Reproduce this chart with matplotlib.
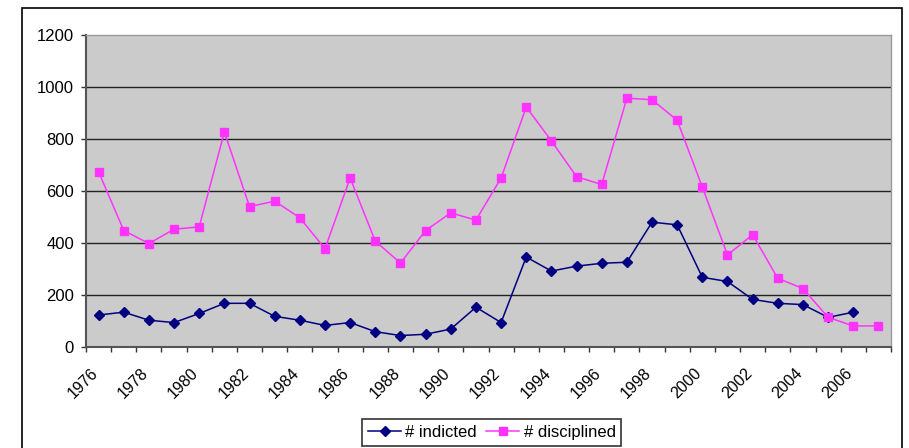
import matplotlib
matplotlib.use("Agg")
import matplotlib.pyplot as plt
from matplotlib.patches import Rectangle
from matplotlib.transforms import ScaledTranslation
import numpy as np

years = list(range(1976, 2008))
indicted = [123, 134, 103, 94, 129, 168, 168, 118, 103, 83, 94, 59, 44, 49, 69, 153,
            94, 346, 292, 311, 322, 326, 480, 470, 268, 252, 183, 168, 163, 114, 134, None]
disciplined = [674, 448, 398, 453, 462, 827, 540, 561, 497, 378, 650, 407, 323, 448, 516, 488,
               650, 923, 793, 655, 625, 957, 951, 872, 615, 354, 432, 264, 225, 114, 81, 81]
y_ticks = [0, 200, 400, 600, 800, 1000, 1200]

plt.rcParams['font.family'] = ['Liberation Sans', 'DejaVu Sans']

fig = plt.figure(figsize=(9.09, 4.48), dpi=100)
fig.patch.set_facecolor('white')
# outer chart border
fig.add_artist(Rectangle((22/909, -0.05), (901.5-22)/909, (448-8)/448 + 0.05,
                         transform=fig.transFigure, fill=False, edgecolor='black', lw=1.2))

ax = fig.add_axes([86/909, (448-347)/448, (891-86)/909, (347-35)/448])
ax.set_facecolor('#CBCBCB')

x = np.arange(len(years))
ind = np.array([np.nan if v is None else v for v in indicted], dtype=float)
dis = np.array(disciplined, dtype=float)

ax.plot(x, ind, color='#000080', lw=1.1, marker='D', markersize=5.2, label='# indicted', zorder=3)
ax.plot(x, dis, color='#FF33FF', lw=1.1, marker='s', markersize=5.4, label='# disciplined', zorder=3)

ax.set_xlim(-0.5, len(years) - 0.5)
ax.set_ylim(0, 1200)
ax.set_yticks(y_ticks)
ax.set_yticklabels([str(v) for v in y_ticks], fontsize=12)
for v in y_ticks[1:-1]:
    ax.axhline(v, color='#222222', lw=1.0, zorder=1)

ax.set_xticks(np.arange(-0.5, len(years), 1.0), minor=False)
ax.set_xticklabels([])
ax.set_xticks(x[::2], minor=True)
ax.set_xticklabels([str(y) for y in years[::2]], minor=True, rotation=45,
                   ha='right', va='center', rotation_mode='anchor', fontsize=11.5)
ax.tick_params(axis='x', which='minor', length=0, pad=17)
ax.tick_params(axis='x', which='major', length=3.6, direction='out', width=1, color='#333333')
ax.tick_params(axis='y', length=3.6, direction='out', width=1, color='#333333', pad=5)
offset = ScaledTranslation(-3/100, 0, fig.dpi_scale_trans)
for lab in ax.get_xticklabels(minor=True):
    lab.set_transform(lab.get_transform() + offset)

for s in ['top', 'right']:
    ax.spines[s].set_color('#999999')
    ax.spines[s].set_linewidth(1)
for s in ['left', 'bottom']:
    ax.spines[s].set_color('#555555')
    ax.spines[s].set_linewidth(1.5)

leg = fig.legend(loc='upper left', bbox_to_anchor=(362/909, (448-419)/448),
                 ncol=2, fontsize=12, frameon=True, fancybox=False, edgecolor='black',
                 handlelength=2.0, handletextpad=0.25, columnspacing=0.55, borderaxespad=0,
                 borderpad=0.35)
leg.get_frame().set_linewidth(1.2)

fig.savefig('out.png', dpi=100)
